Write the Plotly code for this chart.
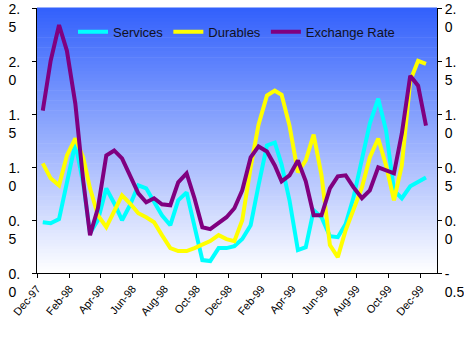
import datetime as dt
import plotly.graph_objects as go

# Half-monthly observations, mid-Dec 1997 to mid-Dec 1999
services = [0.479, 0.470, 0.508, 0.874, 1.222, 0.846, 0.376, 0.498, 0.799, 0.658,
            0.498, 0.639, 0.827, 0.799, 0.677, 0.545, 0.451, 0.686, 0.761, 0.451,
            0.122, 0.113, 0.235, 0.235, 0.254, 0.320, 0.451, 0.827, 1.203, 1.231,
            1.024, 0.686, 0.216, 0.244, 0.592, 0.526, 0.348, 0.338, 0.461, 0.714,
            1.062, 1.410, 1.645, 1.344, 0.780, 0.705, 0.818, 0.865, 0.902]
durables = [1.034, 0.893, 0.827, 1.109, 1.269, 1.090, 0.799, 0.545, 0.432, 0.573,
            0.733, 0.658, 0.564, 0.526, 0.479, 0.357, 0.235, 0.207, 0.207, 0.235,
            0.263, 0.301, 0.357, 0.320, 0.301, 0.498, 0.996, 1.400, 1.673, 1.720,
            1.682, 1.391, 0.949, 1.062, 1.306, 0.921, 0.263, 0.150, 0.404, 0.592,
            0.808, 1.090, 1.269, 1.015, 0.686, 1.015, 1.814, 2.002, 1.974]
exchange_rate = [1.032, 1.502, 1.840, 1.596, 1.098, 0.374, -0.143, 0.111, 0.609, 0.656,
                 0.581, 0.421, 0.252, 0.167, 0.205, 0.148, 0.139, 0.355, 0.440, 0.205,
                 -0.068, -0.086, -0.030, 0.026, 0.111, 0.280, 0.590, 0.694, 0.647, 0.515,
                 0.365, 0.421, 0.562, 0.365, 0.045, 0.045, 0.299, 0.412, 0.421, 0.308,
                 0.205, 0.280, 0.496, 0.468, 0.440, 0.816, 1.361, 1.267, 0.891]

# Dates: the 12th and 27th of each month starting Dec 1997
dates = []
y, m = 1997, 12
while len(dates) < len(services):
    for d in (12, 27):
        if len(dates) < len(services):
            dates.append(dt.date(y, m, d))
    m += 1
    if m > 12:
        y, m = y + 1, 1

left_ticks = [0, 0.5, 1.0, 1.5, 2.0, 2.5]
left_text = ["0.<br>0\u00a0", "0.<br>5\u00a0", "1.<br>0\u00a0", "1.<br>5\u00a0",
             "2.<br>0\u00a0", "2.<br>5\u00a0"]
right_ticks = [-0.5, 0, 0.5, 1.0, 1.5, 2.0]
right_text = ["-<br>0.5", "0.<br>0", "0.<br>5", "1.<br>0", "1.<br>5", "2.<br>0"]

fig = go.Figure()
fig.add_trace(go.Scatter(x=dates, y=services, name="Services", mode="lines",
                         line=dict(color="#00FFFF", width=4)))
fig.add_trace(go.Scatter(x=dates, y=durables, name="Durables", mode="lines",
                         line=dict(color="#FFFF00", width=4)))
fig.add_trace(go.Scatter(x=dates, y=exchange_rate, name="Exchange Rate", mode="lines",
                         line=dict(color="#800080", width=4), yaxis="y2"))

# Vertical blue-to-white gradient behind the plot area
top = (50, 96, 252)
bot = (255, 255, 255)
n = 80
shapes = []
for i in range(n):
    t = (i + 0.5) / n  # 0 at bottom, 1 at top
    c = tuple(int(round(bot[k] + (top[k] - bot[k]) * t)) for k in range(3))
    shapes.append(dict(type="rect", xref="paper", yref="paper",
                       x0=0, x1=1, y0=i / n, y1=(i + 1) / n + 0.002,
                       fillcolor="rgb(%d,%d,%d)" % c, line=dict(width=0),
                       layer="below"))

axis_font = dict(family="Liberation Sans, Arial", size=14, color="black")

fig.update_layout(
    width=464, height=344,
    margin=dict(l=37, r=27, t=8, b=71, autoexpand=False),
    paper_bgcolor="white", plot_bgcolor="white",
    shapes=shapes,
    showlegend=True,
    legend=dict(orientation="h", x=0.09, y=0.91, xanchor="left", yanchor="middle",
                bgcolor="rgba(0,0,0,0)",
                font=dict(family="Liberation Sans, Arial", size=13, color="#111122")),
    xaxis=dict(type="date", range=["1997-12-01", "2000-01-02"],
               tick0="1997-12-01", dtick="M2", tickformat="%b-%y",
               tickangle=-50, ticks="outside", ticklen=4, tickcolor="black",
               showline=True, linecolor="black", linewidth=1,
               showgrid=False, zeroline=False, automargin=False,
               tickfont=dict(family="Liberation Sans, Arial", size=11, color="black")),
    yaxis=dict(range=[0, 2.5], tickvals=left_ticks, ticktext=left_text,
               ticks="outside", ticklen=4, tickcolor="black",
               showline=True, linecolor="black", linewidth=1,
               showgrid=False, zeroline=False, ticklabelshift=10, automargin=False,
               ticklabelstandoff=9, ticklabeloverflow="allow", tickfont=axis_font),
    yaxis2=dict(range=[-0.5, 2.0], tickvals=right_ticks, ticktext=right_text,
                overlaying="y", side="right",
                ticks="outside", ticklen=4, tickcolor="black",
                showline=True, linecolor="black", linewidth=1,
                showgrid=False, zeroline=False, ticklabelshift=10, automargin=False,
                ticklabelstandoff=0, ticklabeloverflow="allow", tickfont=axis_font),
)

fig.write_html("out.html")
